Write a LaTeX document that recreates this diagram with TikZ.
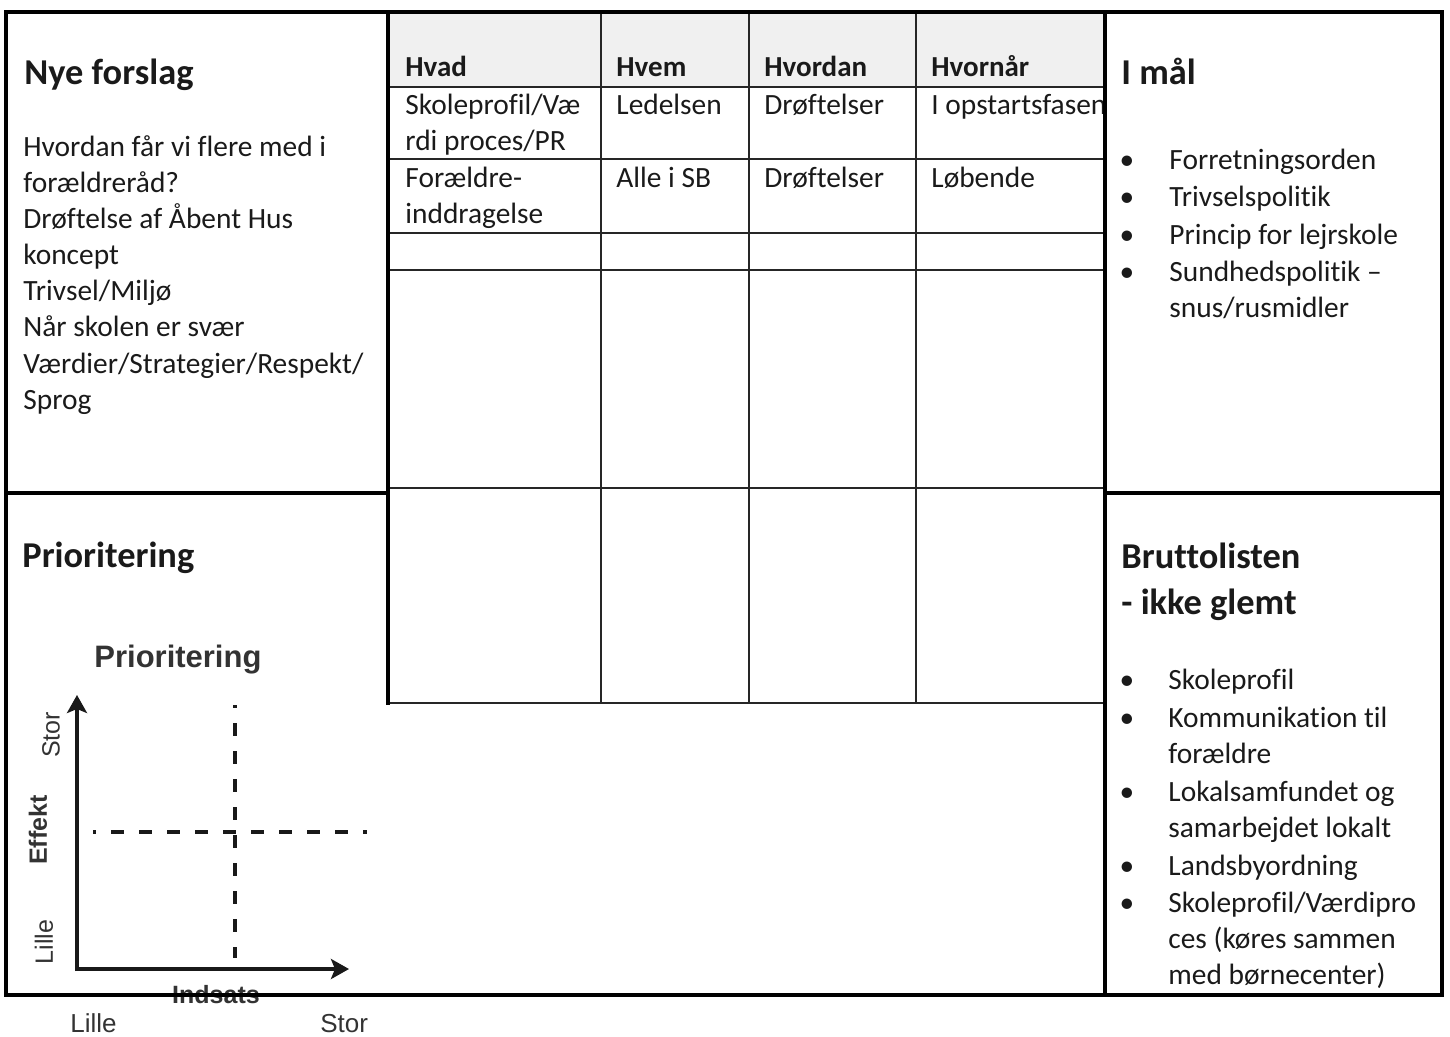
\documentclass[tikz,border=0pt]{standalone}
\usepackage{fontspec}
\setmainfont{Carlito}[Ligatures={NoCommon,NoContextual}]
\newfontfamily\chartfont{Liberation Sans}
\usetikzlibrary{arrows.meta}
\definecolor{txt}{HTML}{1A1A1A}
\definecolor{headgrey}{HTML}{F0F0F0}
\definecolor{chartgrey}{HTML}{333333}
\begin{document}
\begin{tikzpicture}[x=0.5pt,y=-0.5pt,
  frameline/.style={line width=2.2pt, black, line cap=rect},
  gridline/.style={line width=0.9pt, black!85},
  body/.style={inner sep=0pt, anchor=base west, text=txt, font=\fontsize{14.7}{18}\selectfont},
  ttl/.style={inner sep=0pt, anchor=base west, text=txt, font=\fontsize{18.2}{22}\selectfont\bfseries},
  headtxt/.style={inner sep=0pt, anchor=base west, text=txt, font=\fontsize{14.5}{18}\selectfont\bfseries},
  bul/.style={inner sep=0pt, anchor=base, text=txt, font=\fontsize{14.7}{18}\selectfont},
  ctitle/.style={inner sep=0pt, anchor=base west, text=chartgrey, font=\chartfont\bfseries\fontsize{15.5}{18}\selectfont},
  clabel/.style={inner sep=0pt, text=chartgrey, font=\chartfont\fontsize{12.5}{15}\selectfont},
  cbold/.style={inner sep=0pt, text=chartgrey, font=\chartfont\bfseries\fontsize{12.5}{15}\selectfont},
  axis/.style={line width=2pt, black!90, -{Stealth[length=9pt,width=10pt,inset=2pt]}},
  dashline/.style={line width=1.8pt, black!90, dash pattern=on 6.5pt off 7.5pt}
]
\useasboundingbox (0,0) rectangle (1450,1037);

% table header background
\fill[headgrey] (388,12) rectangle (1105,87);

% table grid
\foreach \yy in {87,159,233,270,488,703}
  \draw[gridline] (388,\yy) -- (1105,\yy);
\foreach \xx in {601,749,916}
  \draw[gridline] (\xx,12) -- (\xx,703);

% ---------- left top: Nye forslag ----------
\node[ttl] (nyeT) at (24,85) {Nye forslag};
\foreach [count=\i] \t in {Hvordan får vi flere med i, forældreråd?, Drøftelse af Åbent Hus, koncept, Trivsel/Miljø, Når skolen er svær, Værdier/Strategier/Respekt/, Sprog}
  \node[body] (nye\i) at (23,{157+36*(\i-1)}) {\t};

% ---------- left bottom: Prioritering ----------
\node[ttl] (priT) at (22,567) {Prioritering};
\node[ctitle] (chartT) at (94,667) {Prioritering};

\coordinate (origin) at (77,969);
\coordinate (ytip) at (77,695);
\coordinate (xtip) at (349,969);
\coordinate (vtop) at (235,705);
\coordinate (vbot) at (235,958);
\coordinate (hleft) at (93,832);
\coordinate (hright) at (367,832);
\draw[axis] ([yshift=-1pt]origin) -- (ytip);
\draw[axis] ([xshift=-1pt]origin) -- (xtip);
\draw[dashline, dash phase=5pt] (vtop) -- (vbot);
\draw[dashline, dash phase=5pt] (hleft) -- (hright);

\node[clabel, rotate=90] (yStor) at (51,735) {Stor};
\node[cbold, rotate=90] (yEff) at (38,830) {Effekt};
\node[clabel, rotate=90] (yLille) at (44,942) {Lille};
\node[cbold, anchor=base] (xInd) at (216,1003) {Indsats};
\node[clabel, anchor=base west, font=\chartfont\fontsize{13}{15}\selectfont] (xLille) at (70,1032) {Lille};
\node[clabel, anchor=base west, font=\chartfont\fontsize{13}{15}\selectfont] (xStor) at (320,1032) {Stor};

% ---------- table texts ----------
\node[headtxt] (hHvad) at (405,77) {Hvad};
\node[headtxt] (hHvem) at (616,77) {Hvem};
\node[headtxt] (hHvordan) at (764,77) {Hvordan};
\node[headtxt] (hHvornaar) at (931,77) {Hvornår};

\node[body] (r1a) at (405,115) {Skoleprofil/Væ};
\node[body] (r1b) at (405,151) {rdi proces/PR};
\node[body] (r1c) at (616,115) {Ledelsen};
\node[body] (r1d) at (764,115) {Drøftelser};
\node[body] (r1e) at (931,115) {I opstartsfasen};

\node[body] (r2a) at (405,188) {Forældre-};
\node[body] (r2b) at (405,224) {inddragelse};
\node[body] (r2c) at (616,188) {Alle i SB};
\node[body] (r2d) at (764,188) {Drøftelser};
\node[body] (r2e) at (931,188) {Løbende};

% ---------- right top: I mål ----------
\node[ttl] (imaalT) at (1121,85) {I mål};
\foreach \yy in {170,207,245,282}
  \node[bul] at (1127,\yy) {•};
\node[body] (im1) at (1169,170) {Forretningsorden};
\node[body] (im2) at (1169,207) {Trivselspolitik};
\node[body] (im3) at (1169,245) {Princip for lejrskole};
\node[body] (im4) at (1169,282) {Sundhedspolitik –};
\node[body] (im5) at (1169,318) {snus/rusmidler};

% ---------- right bottom: Bruttolisten ----------
\node[ttl] (brT1) at (1121,568) {Bruttolisten};
\node[ttl] (brT2) at (1121,614) {- ikke glemt};
\foreach \yy in {689,727,801,875,912}
  \node[bul] at (1127,\yy) {•};
\node[body] (b1) at (1168,689) {Skoleprofil};
\node[body] (b2) at (1168,727) {Kommunikation til};
\node[body] (b3) at (1168,763) {forældre};
\node[body] (b4) at (1168,801) {Lokalsamfundet og};
\node[body] (b5) at (1168,837) {samarbejdet lokalt};
\node[body] (b6) at (1168,875) {Landsbyordning};
\node[body] (b7) at (1168,912) {Skoleprofil/Værdipro};
\node[body] (b8) at (1168,948) {ces (køres sammen};
\node[body] (b9) at (1168,984) {med børnecenter)};

% ---------- frame (on top) ----------
\draw[frameline] (6,12) rectangle (1442,995);
\draw[frameline] (388,12) -- (388,703);
\draw[frameline] (6,493) -- (388,493);
\draw[frameline] (1105,12) -- (1105,995);
\draw[frameline] (1105,493) -- (1442,493);
\end{tikzpicture}
\end{document}
